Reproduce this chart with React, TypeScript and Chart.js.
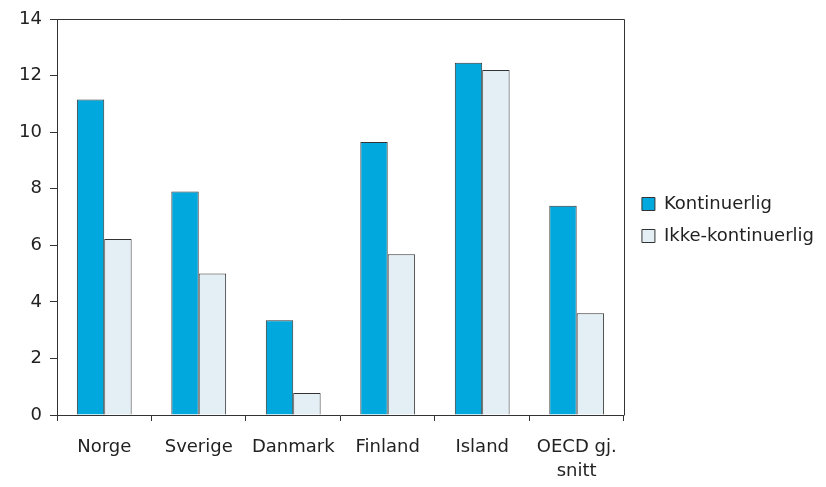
import React, { useEffect, useRef } from 'react';
import { Chart, registerables } from 'chart.js';

Chart.register(...registerables);

const categories: (string | string[])[] = ['Norge', 'Sverige', 'Danmark', 'Finland', 'Island', ['OECD gj.', 'snitt']];
const kontinuerlig = [11.15, 7.9, 3.35, 9.65, 12.45, 7.4];
const ikkeKontinuerlig = [6.22, 5.0, 0.78, 5.68, 12.2, 3.6];
const seriesNames = ['Kontinuerlig', 'Ikke-kontinuerlig'];
const yMin = 0;
const yMax = 14;
const yStep = 2;

const FONT = 'DejaVu Sans';
const TEXT = '#222222';
const LINE = '#333333';

const plotBox = {
  id: 'plotBox',
  afterLayout(chart: any) {
    const l = chart.legend;
    if (l) {
      const a = chart.chartArea;
      const h = l.bottom - l.top;
      const mid = (a.top + a.bottom) / 2 + 3;
      const span = Math.min(h, 400);
      l.top = mid - span / 2;
      l.bottom = mid + span / 2;
      l.height = span;
      l.left += 4;
      l.right += 4;
    }
  },
  afterDraw(chart: any) {
    const { ctx, chartArea: a } = chart;
    ctx.save();
    ctx.strokeStyle = LINE;
    ctx.lineWidth = 1;
    ctx.beginPath();
    const t = Math.round(a.top) + 0.5;
    const r = Math.round(a.right) + 0.5;
    const b = Math.round(a.bottom) + 0.5;
    ctx.moveTo(Math.round(a.left), t);
    ctx.lineTo(r, t);
    ctx.lineTo(r, b);
    ctx.stroke();
    ctx.restore();
  },
};

export default function App() {
  const ref = useRef<HTMLCanvasElement>(null);
  useEffect(() => {
    document.body.style.margin = '0';
    const chart = new Chart(ref.current!, {
      type: 'bar',
      data: {
        labels: categories as any,
        datasets: [
          {
            label: seriesNames[0],
            data: kontinuerlig,
            backgroundColor: '#00A8DE',
            borderColor: LINE,
            borderWidth: 1,
            categoryPercentage: 0.58,
            barPercentage: 1,
          },
          {
            label: seriesNames[1],
            data: ikkeKontinuerlig,
            backgroundColor: '#E3EFF4',
            borderColor: LINE,
            borderWidth: 1,
            categoryPercentage: 0.58,
            barPercentage: 1,
          },
        ],
      },
      options: {
        animation: false,
        responsive: false,
        maintainAspectRatio: false,
        layout: { padding: { top: 19, left: 0, right: 6, bottom: 0 } },
        plugins: {
          tooltip: { enabled: false },
          legend: {
            position: 'right',
            labels: {
              boxWidth: 13,
              boxHeight: 13,
              padding: 14,
              color: TEXT,
              font: { family: FONT, size: 18 },
              useBorderRadius: false,
            },
          },
        },
        scales: {
          x: {
            grid: {
              offset: true,
              drawOnChartArea: false,
              drawTicks: true,
              tickLength: 6,
              color: LINE,
            },
            border: { display: true, color: LINE, width: 1 },
            ticks: {
              color: TEXT,
              font: { family: FONT, size: 18, lineHeight: 1.3 },
              padding: 15,
              maxRotation: 0,
              autoSkip: false,
            },
            afterFit(scale: any) {
              scale.height = 72;
            },
          },
          y: {
            min: yMin,
            max: yMax,
            grid: {
              drawOnChartArea: false,
              drawTicks: true,
              tickLength: 7,
              color: LINE,
            },
            border: { display: true, color: LINE, width: 1 },
            ticks: {
              stepSize: yStep,
              color: TEXT,
              font: { family: FONT, size: 18 },
              padding: 8,
            },
            afterFit(scale: any) {
              scale.width = 57;
            },
          },
        },
      },
      plugins: [plotBox],
    });
    return () => chart.destroy();
  }, []);
  return (
    <div style={{ position: 'relative', width: 826, height: 487 }}>
      <canvas ref={ref} width={826} height={487} style={{ width: 826, height: 487, display: 'block' }} />
    </div>
  );
}
